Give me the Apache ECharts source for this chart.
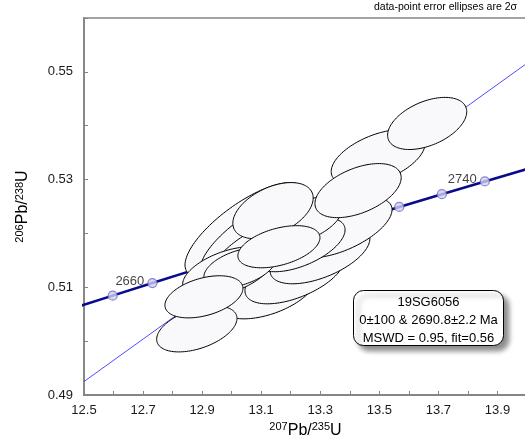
<!DOCTYPE html>
<html>
<head>
<meta charset="utf-8">
<script src="https://cdn.jsdelivr.net/npm/echarts/dist/echarts.min.js"></script>
<style>
  html, body { margin: 0; padding: 0; background: #fff; }
  #chart { width: 525px; height: 439px; }
</style>
</head>
<body>
<div id="chart"></div>
<script>
// Concordia curve, sampled every 10 Ma (ratios from the U decay constants)
const concAges = [2640, 2650, 2660, 2670, 2680, 2690, 2700, 2710, 2720, 2730, 2740, 2750];
const concX = [12.4638, 12.5971, 12.7316, 12.8675, 13.0048, 13.1434, 13.2833, 13.4247, 13.5674, 13.7116, 13.8572, 14.0043];
const concY = [0.50611, 0.50845, 0.51079, 0.51314, 0.51548, 0.51784, 0.52020, 0.52255, 0.52492, 0.52728, 0.52966, 0.53203];
const labeledAges = [2660, 2740];

// Discordia through the lower (0 Ma) and upper (2690.8 Ma) intercepts
const discordX = [12.5, 14.0];
const discordY = [0.49250, 0.55160];

// Analyses (back to front): 207Pb/235U, 2s, 206Pb/238U, 2s, error correlation
const ratio75 = [13.123, 13.214, 13.299, 13.374, 13.045, 13.079, 13.096, 13.231, 12.987, 13.496, 13.231, 13.028, 12.882, 12.906, 13.140, 13.160, 13.428, 13.662];
const err75   = [0.163, 0.169, 0.169, 0.169, 0.203, 0.186, 0.163, 0.153, 0.153, 0.159, 0.142, 0.122, 0.136, 0.132, 0.136, 0.139, 0.146, 0.134];
const ratio68 = [0.50916, 0.51233, 0.51605, 0.52107, 0.52070, 0.51921, 0.51698, 0.51791, 0.51288, 0.53409, 0.52219, 0.51363, 0.50228, 0.50823, 0.52423, 0.51753, 0.52795, 0.54042];
const err68   = [0.00502, 0.00540, 0.00540, 0.00558, 0.00874, 0.00781, 0.00595, 0.00502, 0.00465, 0.00521, 0.00447, 0.00372, 0.00428, 0.00391, 0.00521, 0.00391, 0.00502, 0.00484];
const rhos    = [0.50, 0.55, 0.55, 0.60, 0.75, 0.75, 0.70, 0.55, 0.50, 0.50, 0.50, 0.45, 0.45, 0.40, 0.45, 0.43, 0.48, 0.45];

const FONT = '"Liberation Sans", Arial, Helvetica, sans-serif';

const ellipseData = ratio75.map((x, i) => [x, err75[i], ratio68[i], err68[i], rhos[i]]);
const concLine = concX.map((x, i) => [x, concY[i]]);
const markerData = concAges
  .map((a, i) => ({ age: a, value: [concX[i], concY[i]] }))
  .filter(d => d.value[0] > 12.5 && d.value[0] < 14.0)
  .map(d => ({
    value: d.value,
    label: { show: labeledAges.includes(d.age), formatter: String(d.age) }
  }));

const chart = echarts.init(document.getElementById('chart'), null, { renderer: 'canvas' });

const axisLineStyle = { color: '#858585', width: 1.8 };

chart.setOption({
  animation: false,
  backgroundColor: '#ffffff',
  textStyle: { fontFamily: FONT },
  grid: {
    left: 84, right: -2, top: 18, bottom: 44,
    outerBoundsMode: 'none', containLabel: false,
    show: true, borderColor: '#858585', borderWidth: 1.5, backgroundColor: 'transparent'
  },
  xAxis: {
    type: 'value', min: 12.5, max: 14.0, interval: 0.1,
    axisLine: { show: true, lineStyle: axisLineStyle },
    axisTick: { show: true, inside: true, length: 4, lineStyle: { color: '#858585', width: 1 } },
    splitLine: { show: false },
    axisLabel: {
      fontSize: 13, color: '#1a1a1a', fontFamily: FONT, margin: 9,
      formatter: v => {
        const k = Math.round(v * 10);
        return ((k - 125) % 2 === 0 && k < 140) ? (k / 10).toFixed(1) : '';
      }
    },
    name: '{sup|207}Pb/{sup|235}U',
    nameLocation: 'middle', nameGap: 23,
    nameTextStyle: {
      fontSize: 16, color: '#000', fontFamily: FONT,
      rich: { sup: { fontSize: 11, fontFamily: FONT, color: '#000', padding: [0, 0, 7, 0] } }
    }
  },
  yAxis: {
    type: 'value', min: 0.49, max: 0.56, interval: 0.01,
    axisLine: { show: true, lineStyle: axisLineStyle },
    axisTick: { show: true, inside: true, length: 4, lineStyle: { color: '#858585', width: 1 } },
    splitLine: { show: false },
    axisLabel: {
      fontSize: 13, color: '#1a1a1a', fontFamily: FONT, margin: 11,
      formatter: v => {
        const k = Math.round(v * 100);
        return (k % 2 === 1 && k < 56) ? (k / 100).toFixed(2) : '';
      }
    },
    name: '{sup|206}Pb/{sup|238}U',
    nameLocation: 'middle', nameGap: 52, nameRotate: 90,
    nameTextStyle: {
      fontSize: 16, color: '#000', fontFamily: FONT,
      rich: { sup: { fontSize: 11, fontFamily: FONT, color: '#000', padding: [0, 0, 7, 0] } }
    }
  },
  series: [
    {
      type: 'line', data: discordX.map((x, i) => [x, discordY[i]]),
      showSymbol: false, clip: true, z: 1,
      lineStyle: { color: '#2020ff', width: 0.8 }
    },
    {
      type: 'line', data: concLine, showSymbol: false, clip: true, z: 2, smooth: false,
      lineStyle: { color: '#0a0a8c', width: 2.6 }
    },
    {
      type: 'scatter', data: markerData, z: 3,
      symbol: 'circle', symbolSize: 9,
      itemStyle: { color: '#cfcff0', borderColor: '#6c6cc4', borderWidth: 1.2 },
      label: {
        position: 'left', distance: 3, offset: [0, -2],
        fontSize: 13, color: '#111', fontFamily: FONT
      }
    },
    {
      type: 'custom', data: ellipseData, z: 5, clip: true,
      encode: { x: 0, y: 2 },
      renderItem: (params, api) => {
        const cx = api.value(0), ex = api.value(1), cy = api.value(2), ey = api.value(3), r = api.value(4);
        const s = Math.sqrt(1 - r * r);
        const pts = [];
        const n = 120;
        for (let k = 0; k < n; k++) {
          const t = 2 * Math.PI * k / n;
          pts.push(api.coord([cx + ex * Math.cos(t), cy + ey * (r * Math.cos(t) + s * Math.sin(t))]));
        }
        return {
          type: 'polygon',
          shape: { points: pts },
          style: { fill: '#f9f9fc', stroke: '#000', lineWidth: 1 }
        };
      }
    }
  ],
  graphic: [
    {
      type: 'text', right: 8, top: 2, z: 20,
      style: { text: 'data-point error ellipses are 2\u03c3', fontSize: 10.5, fill: '#000', font: '10.5px ' + FONT }
    },
    {
      type: 'group', left: 353, top: 290, z: 20,
      children: [
        {
          type: 'rect', shape: { x: 0, y: 0, width: 150, height: 55, r: 10 },
          style: {
            fill: '#fff', stroke: '#000', lineWidth: 1,
            shadowBlur: 5, shadowOffsetX: 5, shadowOffsetY: 5, shadowColor: 'rgba(0,0,0,0.45)'
          }
        },
        { type: 'text', x: 75, y: 11.5, style: { text: '19SG6056', font: '13px ' + FONT, fill: '#000', textAlign: 'center', textVerticalAlign: 'middle' } },
        { type: 'text', x: 75, y: 29.5, style: { text: '0\u00b1100 & 2690.8\u00b12.2 Ma', font: '13px ' + FONT, fill: '#000', textAlign: 'center', textVerticalAlign: 'middle' } },
        { type: 'text', x: 75, y: 47.5, style: { text: 'MSWD = 0.95, fit=0.56', font: '13px ' + FONT, fill: '#000', textAlign: 'center', textVerticalAlign: 'middle' } }
      ]
    }
  ]
});
</script>
</body>
</html>
